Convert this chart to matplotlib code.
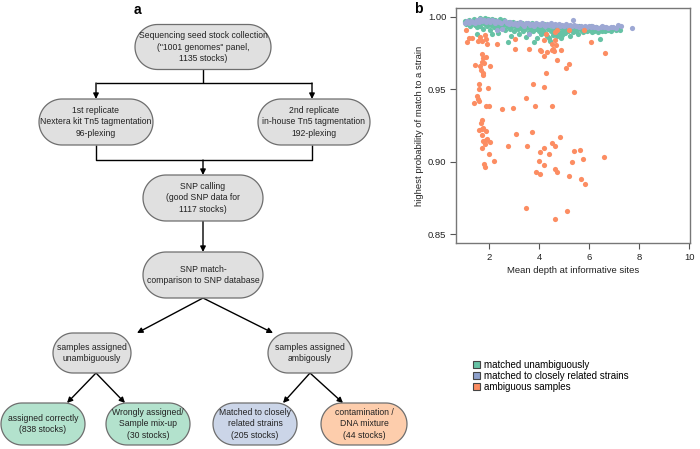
import matplotlib
matplotlib.use("Agg")
import numpy as np
import matplotlib.pyplot as plt
from matplotlib.patches import Polygon, Patch

plt.rcParams['font.family'] = ['Liberation Sans', 'DejaVu Sans']

# ---- panel a: flowchart boxes (label, fill colour key) ----
box_labels = [
    'Sequencing seed stock collection\n("1001 genomes" panel,\n1135 stocks)',
    '1st replicate\nNextera kit Tn5 tagmentation\n96-plexing',
    '2nd replicate\nin-house Tn5 tagmentation\n192-plexing',
    'SNP calling\n(good SNP data for\n1117 stocks)',
    'SNP match-\ncomparison to SNP database',
    'samples assigned\nunambiguously',
    'samples assigned\nambigously',
    'assigned correctly\n(838 stocks)',
    'Wrongly assigned/\nSample mix-up\n(30 stocks)',
    'Matched to closely\nrelated strains\n(205 stocks)',
    'contamination /\nDNA mixture\n(44 stocks)',
]
box_kind = ['grey', 'grey', 'grey', 'grey', 'grey', 'grey', 'grey',
            'green', 'green', 'blue', 'orange']

# ---- panel b: scatter data (mean depth, highest match probability) ----
green_x = [1.02, 1.05, 1.08, 1.10, 1.14, 1.18, 1.22, 1.25, 1.28, 1.32, 1.36, 1.40, 1.43, 1.47,
           1.50, 1.53, 1.55, 1.58, 1.62, 1.65, 1.68, 1.72, 1.75, 1.78, 1.82, 1.85, 1.88, 1.92,
           1.95, 1.98, 2.02, 2.05, 2.08, 2.12, 2.13, 2.16, 2.20, 2.24, 2.28, 2.31, 2.34, 2.36,
           2.40, 2.44, 2.48, 2.52, 2.56, 2.60, 2.64, 2.68, 2.72, 2.75, 2.78, 2.82, 2.86, 2.88,
           2.92, 2.96, 3.00, 3.04, 3.08, 3.12, 3.16, 3.21, 3.24, 3.28, 3.32, 3.36, 3.40, 3.44,
           3.47, 3.50, 3.54, 3.58, 3.62, 3.66, 3.70, 3.74, 3.78, 3.82, 3.86, 3.90, 3.93, 3.96,
           4.00, 4.04, 4.08, 4.12, 4.16, 4.20, 4.24, 4.28, 4.32, 4.36, 4.39, 4.42, 4.46, 4.50,
           4.54, 4.58, 4.62, 4.66, 4.70, 4.74, 4.78, 4.82, 4.86, 4.90, 4.92, 4.96, 5.00, 5.05,
           5.10, 5.15, 5.20, 5.25, 5.30, 5.35, 5.40, 5.45, 5.50, 5.55, 5.60, 5.65, 5.70, 5.75,
           5.80, 5.85, 5.90, 5.95, 6.00, 6.05, 6.10, 6.15, 6.20, 6.25, 6.30, 6.35, 6.41, 6.45,
           6.50, 6.56, 6.62, 6.68, 6.74, 6.80, 6.86, 6.92, 7.00, 7.08, 7.15, 7.22]
green_y = [.9975, .9962, .9948, .9968, .9955, .9978, .9940, .9962, .9950, .9972, .9958, .9985, .9945, .9968,
           .9930, .9885, .9975, .9955, .9990, .9940, .9965, .9980, .9920, .9960, .9992, .9948, .9975, .9935,
           .9985, .9960, .9910, .9978, .9945, .9988, .9885, .9962, .9930, .9980, .9950, .9915, .9890, .9972,
           .9940, .9985, .9925, .9965, .9945, .9978, .9910, .9955, .9935, .9830, .9968, .9920, .9950, .9866,
           .9940, .9962, .9905, .9948, .9930, .9960, .9915, .9885, .9950, .9925, .9958, .9900, .9940, .9918,
           .9862, .9952, .9930, .9895, .9945, .9920, .9960, .9905, .9827, .9938, .9915, .9950, .9857, .9925,
           .9900, .9945, .9880, .9930, .9910, .9950, .9890, .9935, .9870, .9920, .9857, .9834, .9905, .9940,
           .9875, .9925, .9895, .9935, .9870, .9915, .9940, .9890, .9855, .9925, .9878, .9905, .9935, .9890,
           .9920, .9900, .9938, .9866, .9915, .9895, .9930, .9905, .9925, .9885, .9935, .9910, .9925, .9895,
           .9930, .9915, .9900, .9928, .9908, .9935, .9895, .9920, .9905, .9930, .9910, .9895, .9850, .9925,
           .9905, .9918, .9900, .9925, .9910, .9920, .9905, .9915, .9925, .9910, .9920, .9908]

blue_x = [1.05, 1.12, 1.20, 1.28, 1.35, 1.42, 1.50, 1.58, 1.65, 1.72, 1.80, 1.88, 1.95, 2.02,
          2.10, 2.18, 2.25, 2.32, 2.40, 2.46, 2.53, 2.62, 2.70, 2.78, 2.85, 2.95, 3.02, 3.10,
          3.18, 3.25, 3.32, 3.40, 3.48, 3.55, 3.58, 3.62, 3.70, 3.80, 3.88, 3.95, 4.02, 4.10,
          4.18, 4.25, 4.32, 4.40, 4.48, 4.55, 4.62, 4.70, 4.78, 4.85, 4.92, 5.00, 5.08, 5.15,
          5.22, 5.30, 5.34, 5.38, 5.45, 5.52, 5.60, 5.68, 5.75, 5.82, 5.90, 5.98, 6.05, 6.12,
          6.20, 6.28, 6.36, 6.45, 6.52, 6.60, 6.68, 6.76, 6.85, 6.95, 7.05, 7.16, 7.25, 7.70,
          2.32]
blue_y = [.9955, .9970, .9960, .9975, .9965, .9958, .9978, .9968, .9985, .9972, .9980, .9965, .9978, .9968,
          .9982, .9972, .9960, .9975, .9966, .9955, .9915, .9970, .9955, .9948, .9962, .9950, .9958, .9945,
          .9955, .9962, .9948, .9940, .9955, .9960, .9885, .9945, .9952, .9940, .9955, .9948, .9942, .9955,
          .9945, .9938, .9950, .9945, .9955, .9940, .9948, .9942, .9950, .9938, .9945, .9940, .9948, .9935,
          .9942, .9938, .9982, .9945, .9935, .9940, .9932, .9938, .9930, .9936, .9932, .9940, .9930, .9935,
          .9928, .9932, .9925, .9930, .9935, .9928, .9932, .9925, .9930, .9928, .9925, .9942, .9935, .9926,
          .9912]

orange_x = [1.08, 1.13, 1.21, 1.33, 1.57, 1.63, 1.72, 1.83, 1.93, 1.87, 2.32, 3.05, 3.05, 3.61,
            4.03, 4.07, 4.20, 4.26, 4.30, 4.21, 4.50, 4.55, 4.62, 4.66, 4.53, 4.59, 4.72, 4.86,
            5.21, 5.80, 6.07, 6.64, 4.72, 5.21, 5.07, 4.26, 1.45, 1.70, 1.76, 1.87, 1.72, 1.79,
            1.63, 1.67, 1.74, 1.76, 2.03, 1.61, 1.61, 1.97, 3.76, 4.21, 5.37, 3.47, 1.53, 1.55,
            1.39, 1.59, 1.89, 1.99, 2.50, 2.95, 3.82, 4.50, 1.71, 1.67, 1.61, 1.70, 1.76, 1.86,
            1.72, 1.76, 1.87, 1.91, 1.83, 1.72, 2.05, 3.09, 3.71, 4.84, 2.76, 3.53, 4.20, 4.53,
            4.63, 4.03, 4.38, 5.38, 5.64, 1.99, 2.20, 4.00, 5.75, 6.58, 5.32, 1.78, 1.84, 4.20,
            3.86, 4.03, 4.62, 4.71, 5.21, 5.67, 5.84, 3.47, 5.11, 4.64, 4.64]
orange_y = [.9912, .9827, .9855, .9855, .9832, .9862, .9834, .9878, .9816, .9850, .9816, .9850, .9781, .9781,
            .9774, .9763, .9843, .9885, .9758, .9728, .9816, .9781, .9839, .9804, .9774, .9765, .9908, .9774,
            .9908, .9912, .9830, .9751, .9700, .9673, .9647, .9613, .9666, .9742, .9719, .9724, .9689, .9682,
            .9659, .9631, .9613, .9597, .9661, .9539, .9505, .9507, .9539, .9516, .9484, .9438, .9452, .9433,
            .9403, .9419, .9387, .9387, .9364, .9371, .9387, .9382, .9286, .9267, .9217, .9228, .9233, .9212,
            .9187, .9143, .9152, .9157, .9120, .9094, .9138, .9191, .9203, .9170, .9106, .9106, .9092, .9129,
            .9111, .9069, .9055, .9074, .9083, .9051, .9002, .9002, .9018, .9035, .8995, .8982, .8963, .8980,
            .8931, .8917, .8947, .8929, .8901, .8880, .8848, .8682, .8659, .8601, .9894]

legend_labels = ['matched unambiguously', 'matched to closely related strains', 'ambiguous samples']

fill = {'grey': '#e0e0e0', 'green': '#b3e2cd', 'blue': '#cbd5e8', 'orange': '#fdcdac'}
pt_green, pt_blue, pt_orange = '#66c2a5', '#9da8d4', '#fc8d62'

W, H = 700, 449
fig = plt.figure(figsize=(7, 4.49), dpi=100)

# flowchart drawn in pixel space (y measured from the top, flipped here)
ax = fig.add_axes([0, 0, 1, 1])
ax.set_xlim(0, W)
ax.set_ylim(0, H)
ax.axis('off')

def P(x, y):
    return (x, H - y)

def stadium(cx, cy, w, h):
    # pill shape with semicircular ends
    r = h / 2
    t = np.linspace(-np.pi / 2, np.pi / 2, 40)
    right = np.column_stack([cx + w / 2 - r + r * np.cos(t), cy + r * np.sin(t)])
    left = np.column_stack([cx - w / 2 + r - r * np.cos(t), cy - r * np.sin(t)])
    pts = np.vstack([right, left])
    pts[:, 1] = H - pts[:, 1]
    return pts

# centre x, centre y (from top), width, height (pixels)
box_geom = [(203, 47, 136, 45), (96, 122, 114, 46), (314, 122, 112, 46),
            (203, 198, 120, 46), (203, 275, 120, 46), (92, 353, 78, 40),
            (310, 353, 84, 40), (43, 424, 84, 42), (148, 424, 84, 42),
            (255, 424, 84, 42), (364, 424, 86, 42)]

for (cx, cy, w, h), txt, kind in zip(box_geom, box_labels, box_kind):
    ax.add_patch(Polygon(stadium(cx, cy, w, h), closed=True,
                         fc=fill[kind], ec='#6e6e6e', lw=0.9, zorder=2))
    ax.text(*P(cx, cy), txt, ha='center', va='center', fontsize=6.2,
            linespacing=1.3, color='#222222', zorder=3)

def line(pts):
    xs, ys = zip(*[P(x, y) for x, y in pts])
    ax.plot(xs, ys, color='black', lw=1, zorder=1, solid_capstyle='butt')

def arrow(p0, p1):
    ax.annotate('', xy=P(*p1), xytext=P(*p0), zorder=1,
                arrowprops=dict(arrowstyle='-|>', color='black', lw=1,
                                mutation_scale=8, shrinkA=0, shrinkB=0))

line([(203, 69), (203, 83)])
line([(96, 83), (312, 83)])
arrow((96, 83), (96, 99))
arrow((312, 83), (312, 99))
line([(96, 145), (96, 160), (312, 160), (312, 145)])
arrow((203, 160), (203, 175))
arrow((203, 221), (203, 252))
arrow((203, 298), (137, 333))
arrow((203, 298), (273, 333))
arrow((96, 373), (67, 403))
arrow((96, 373), (125, 403))
arrow((310, 373), (283, 403))
arrow((310, 373), (343, 403))

ax.text(*P(137, 10), 'a', fontsize=10, fontweight='bold', ha='center', va='center')
ax.text(*P(418, 9), 'b', fontsize=10, fontweight='bold', ha='center', va='center')

# scatter panel
axb = fig.add_axes([456 / W, 1 - 243 / H, 234 / W, 235 / H])
axb.scatter(green_x, green_y, s=14, color=pt_green, linewidths=0, zorder=2)
axb.scatter(blue_x, blue_y, s=14, color=pt_blue, linewidths=0, zorder=3)
axb.scatter(orange_x, orange_y, s=14, color=pt_orange, linewidths=0, zorder=4)
axb.set_xlim(0.68, 10.02)
axb.set_ylim(0.8438, 1.0062)
axb.set_xticks([2, 4, 6, 8, 10])
axb.set_yticks([0.85, 0.90, 0.95, 1.00])
axb.set_yticklabels(['0.85', '0.90', '0.95', '1.00'])
axb.tick_params(labelsize=6.8, length=4, width=0.8, color='#555555', labelcolor='#222222', pad=3)
for sp in axb.spines.values():
    sp.set_color('#777777')
    sp.set_linewidth(1)
axb.set_xlabel('Mean depth at informative sites', fontsize=6.8, color='#222222', labelpad=3)
axb.set_ylabel('highest probability of match to a strain', fontsize=6.8, color='#222222', labelpad=3)

handles = [Patch(fc=c, ec='#444444', lw=0.8) for c in (pt_green, '#8da0cb', pt_orange)]
fig.legend(handles, legend_labels, loc='upper left', bbox_to_anchor=(468 / W, 1 - 355 / H),
           frameon=False, fontsize=7, handlelength=0.7, handleheight=0.7,
           handletextpad=0.4, labelspacing=0.12, borderpad=0)

fig.savefig('out.png', dpi=100)
